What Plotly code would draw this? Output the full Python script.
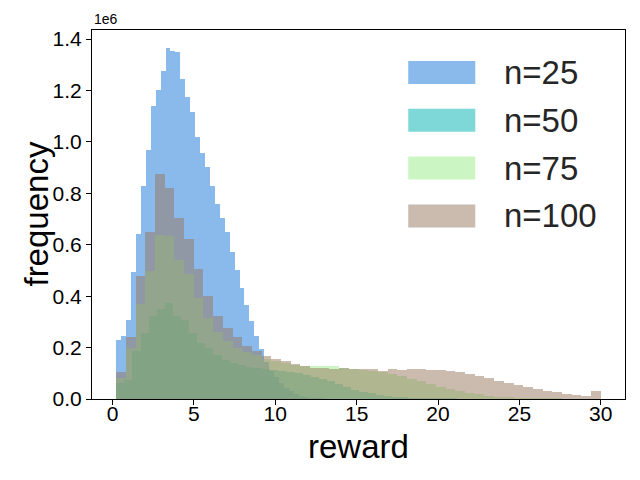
import numpy as np
import plotly.graph_objects as go

# ---- data (counts in units of 1e6) ----
series_names = ["n=25", "n=50", "n=75", "n=100"]
bin_start = 0.23
bin_widths = [0.303, 0.498, 0.5954, 0.5954]

counts_n25 = [0.230, 0.245, 0.308, 0.495, 0.643, 0.829, 0.970, 1.141, 1.203, 1.277,
              1.367, 1.355, 1.351, 1.246, 1.176, 1.118, 1.020, 0.958, 0.903, 0.829,
              0.759, 0.705, 0.650, 0.572, 0.502, 0.432, 0.366, 0.304, 0.245, 0.195,
              0.145, 0.109, 0.086, 0.062, 0.043, 0.031, 0.019, 0.012, 0.008, 0.005,
              0.003, 0.002, 0.001, 0.0, 0.0, 0.0, 0.0, 0.0, 0.0, 0.0]
counts_n50 = [0.062, 0.074, 0.187, 0.257, 0.323, 0.350, 0.374, 0.323, 0.308, 0.257,
              0.218, 0.199, 0.171, 0.152, 0.140, 0.132, 0.125, 0.121, 0.117, 0.113,
              0.109, 0.105, 0.101, 0.093, 0.086, 0.078, 0.070, 0.058, 0.047, 0.035,
              0.027, 0.023, 0.016, 0.012, 0.008, 0.006, 0.004, 0.004, 0.004, 0.003,
              0.002, 0.002, 0.001, 0.001, 0.001, 0.001, 0.0, 0.0, 0.0, 0.0]
counts_n75 = [0.082, 0.199, 0.370, 0.498, 0.639, 0.635, 0.541, 0.487, 0.393, 0.315,
              0.261, 0.226, 0.199, 0.183, 0.171, 0.156, 0.146, 0.139, 0.133, 0.129,
              0.128, 0.130, 0.127, 0.122, 0.118, 0.113, 0.109, 0.105, 0.097, 0.090,
              0.078, 0.070, 0.058, 0.047, 0.039, 0.031, 0.023, 0.019, 0.012, 0.008,
              0.008, 0.005, 0.004, 0.004, 0.003, 0.002, 0.001, 0.001, 0.0, 0.0]
counts_n100 = [0.105, 0.241, 0.479, 0.650, 0.876, 0.822, 0.705, 0.623, 0.506, 0.401,
               0.323, 0.276, 0.241, 0.206, 0.187, 0.167, 0.156, 0.146, 0.138, 0.130,
               0.122, 0.120, 0.117, 0.119, 0.118, 0.117, 0.117, 0.110, 0.117, 0.113,
               0.117, 0.117, 0.114, 0.113, 0.109, 0.104, 0.097, 0.089, 0.082, 0.070,
               0.062, 0.054, 0.047, 0.039, 0.031, 0.027, 0.019, 0.016, 0.012, 0.031]

x_ticks = [0, 5, 10, 15, 20, 25, 30]
y_ticks = [0.0, 0.2, 0.4, 0.6, 0.8, 1.0, 1.2, 1.4]
y_ticklabels = ["0.0", "0.2", "0.4", "0.6", "0.8", "1.0", "1.2", "1.4"]

colors = ["rgba(21,115,217,0.5)", "rgba(0,177,177,0.5)",
          "rgba(151,235,135,0.5)", "rgba(149,119,93,0.5)"]

all_counts = [counts_n25, counts_n50, counts_n75, counts_n100]
FONT = "Liberation Sans, Arial, sans-serif"

fig = go.Figure()
for name, w, cnt, col in zip(series_names, bin_widths, all_counts, colors):
    cnt = np.array(cnt) * 1e6
    centers = bin_start + w * (np.arange(len(cnt)) + 0.5)
    fig.add_trace(go.Bar(x=centers, y=cnt, width=w, name=name,
                         marker=dict(color=col, line=dict(width=0)),
                         showlegend=False))

ymax = max(max(c) for c in all_counts) * 1e6 * 1.05
xmin = bin_start - 0.05 * (30 - bin_start)
xmax = 30 + 0.05 * (30 - bin_start)

fig.update_layout(
    width=640, height=480,
    margin=dict(l=92, r=15, t=30, b=81),
    paper_bgcolor="white", plot_bgcolor="white",
    barmode="overlay", bargap=0,
    font=dict(family=FONT, color="black", size=21),
    xaxis=dict(range=[xmin, xmax], tickvals=x_ticks, ticks="outside",
               ticklen=5, tickwidth=1, tickcolor="black", showgrid=False,
               zeroline=False, showline=True, linecolor="black", linewidth=1,
               mirror=True, tickfont=dict(size=21), ticklabelstandoff=-9),
    yaxis=dict(range=[0, ymax], tickvals=[v * 1e6 for v in y_ticks],
               ticktext=y_ticklabels, ticks="outside", ticklen=5, tickwidth=1,
               tickcolor="black", showgrid=False, zeroline=False, showline=True,
               linecolor="black", linewidth=1, mirror=True,
               tickfont=dict(size=21)),
)

# axis titles and offset text
fig.add_annotation(text="reward", xref="paper", yref="paper", x=0.5, y=-0.13,
                   xanchor="center", yanchor="middle", showarrow=False,
                   font=dict(size=33, family=FONT))
fig.add_annotation(text="frequency", xref="paper", yref="paper", x=-0.105, y=0.5,
                   xanchor="center", yanchor="middle", textangle=-90,
                   showarrow=False, font=dict(size=33, family=FONT))
fig.add_annotation(text="1e6", xref="paper", yref="paper", x=0.0, y=1.0,
                   xanchor="left", yanchor="bottom", yshift=1, showarrow=False,
                   font=dict(size=14, family=FONT))

# legend (drawn as patches + text, matplotlib-style, no frame)
legend_top = 61
for i, (name, col) in enumerate(zip(series_names, colors)):
    y0 = legend_top + i * 47.8
    fig.add_shape(type="rect", xref="paper", yref="paper",
                  x0=(408 - 92) / (624.6 - 92), x1=(475 - 92) / (624.6 - 92),
                  y0=(399 - y0) / 369.0, y1=(399 - (y0 + 23)) / 369.0,
                  fillcolor=col, line=dict(width=0), layer="above")
    fig.add_annotation(text=name, xref="paper", yref="paper",
                       x=(502 - 92) / (624.6 - 92), y=(399 - (y0 + 11.5)) / 369.0,
                       xanchor="left", yanchor="middle", showarrow=False,
                       font=dict(size=33, family=FONT, color="#262626"))

fig.write_html("out.html", config={"displayModeBar": False},
               post_script="document.body.style.margin='0px';document.body.style.padding='0px';")
